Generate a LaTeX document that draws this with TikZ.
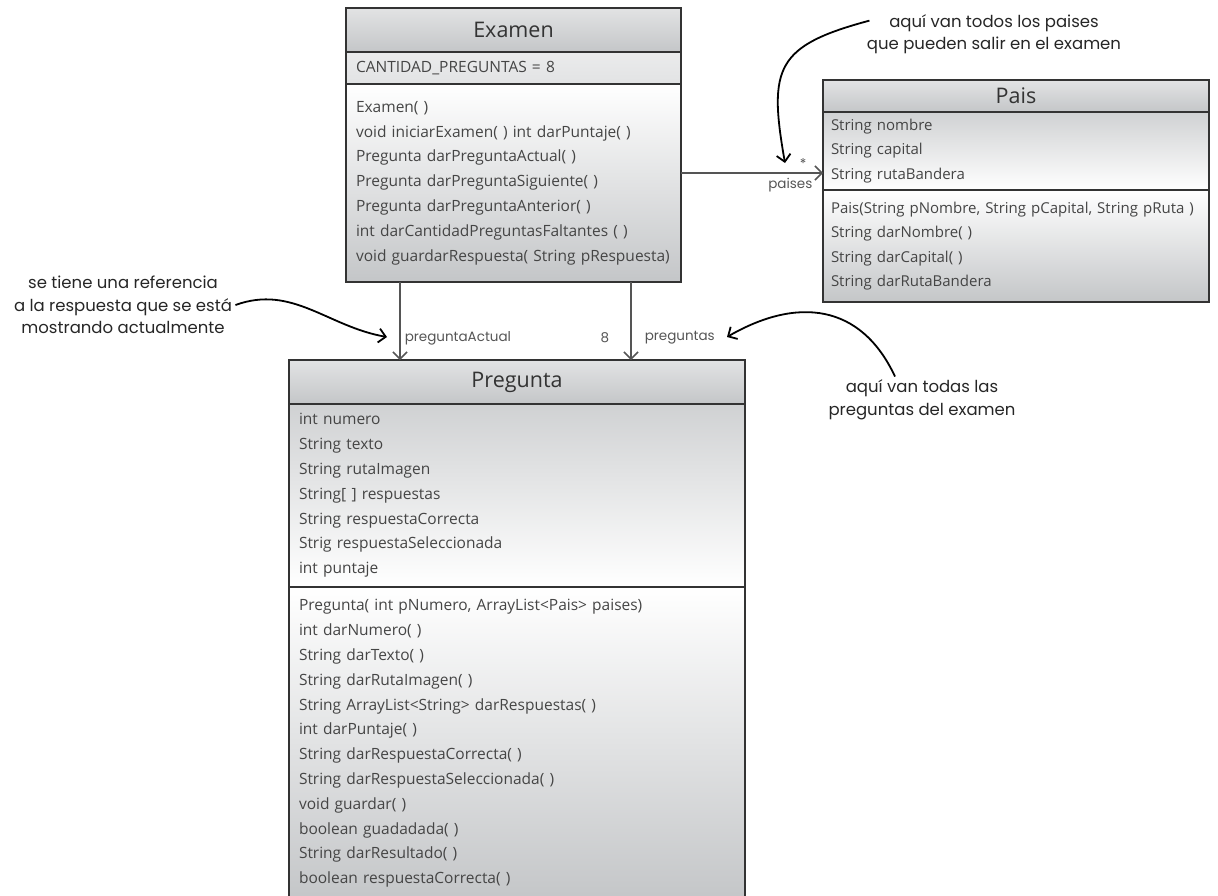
\documentclass[tikz,border=0pt]{standalone}
\usepackage{fontspec}
\usepackage{xcolor}
\newfontfamily\umlfont{Open Sans}
\newfontfamily\notefont{Poppins}
\definecolor{umlLine}{HTML}{333333}
\definecolor{umlText}{HTML}{454545}
\definecolor{umlShade}{HTML}{C4C6C8}
\definecolor{umlTop}{HTML}{E2E3E4}
\definecolor{linkGray}{HTML}{555555}
\usetikzlibrary{positioning,arrows.meta}

\begin{document}
\begin{tikzpicture}[x=1pt, y=-1pt,
  umltitle/.style={draw=umlLine, line width=1.6pt, outer sep=0pt, inner sep=0pt, top color=umlTop, bottom color=umlShade, text=black!80, font=\umlfont\fontsize{21.5}{24}\selectfont, minimum width=#1},
  umlpart/.style={draw=umlLine, line width=1.6pt, outer sep=0pt, inner xsep=10pt, inner ysep=0pt, text=umlText, font=\umlfont\fontsize{15.5}{24.8}\selectfont, align=left, text width=#1},
  umlattr/.style={top color=umlShade!80, bottom color=white},
  umlmeth/.style={top color=white, bottom color=umlShade},
  umlframe/.style={draw=umlLine, line width=2.4pt},
  link/.style={draw=linkGray, line width=1.5pt, -{Straight Barb[length=7pt,width=14pt]}},
  linklabel/.style={text=linkGray, font=\notefont\fontsize{13.5}{15}\selectfont, inner sep=1pt},
  note/.style={align=center, text=black!85, font=\notefont\fontsize{16.5}{22.5}\selectfont},
  notearrow/.style={draw=black, line width=1.8pt, -{Straight Barb[length=7pt,width=14pt]}}]
  \useasboundingbox (0,0) rectangle (1218,895);

  \node[umltitle=335pt, minimum height=44pt, anchor=north west] (exTitle) at (346,8) {Examen};
  \node[umlpart=315pt, minimum height=32pt, below=0pt of exTitle, top color=umlTop!70, bottom color=umlTop] (exAttr) {CANTIDAD\_PREGUNTAS = 8};
  \node[umlpart=315pt, umlmeth, minimum height=198pt, below=0pt of exAttr] (exMeth) {Examen( )\\void iniciarExamen( ) int darPuntaje( )\\Pregunta darPreguntaActual( )\\Pregunta darPreguntaSiguiente( )\\Pregunta darPreguntaAnterior( )\\int darCantidadPreguntasFaltantes ( )\\void guardarRespuesta( String pRespuesta)};
  \draw[umlframe] (exTitle.north west) rectangle (exMeth.south east);

  \node[umltitle=386pt, minimum height=32pt, anchor=north west] (paisTitle) at (823,80) {Pais};
  \node[umlpart=370pt, inner xsep=8pt, font=\umlfont\fontsize{15}{24.6}\selectfont, umlattr, minimum height=78pt, below=0pt of paisTitle] (paisAttr) {String nombre\\String capital\\String rutaBandera};
  \node[umlpart=370pt, inner xsep=8pt, font=\umlfont\fontsize{15}{24.6}\selectfont, umlmeth, minimum height=112pt, below=0pt of paisAttr] (paisMeth) {Pais(String pNombre, String pCapital, String pRuta )\\String darNombre( )\\String darCapital( )\\String darRutaBandera};
  \draw[umlframe] (paisTitle.north west) rectangle (paisMeth.south east);

  \node[umltitle=456pt, minimum height=44pt, anchor=north west] (pregTitle) at (289,360) {Pregunta};
  \node[umlpart=436pt, umlattr, minimum height=183pt, below=0pt of pregTitle] (pregAttr) {int numero\\String texto\\String rutaImagen\\String[ ] respuestas\\String respuestaCorrecta\\Strig respuestaSeleccionada\\int puntaje};
  \node[umlpart=436pt, umlmeth, minimum height=313pt, below=0pt of pregAttr] (pregMeth) {Pregunta( int pNumero, ArrayList<Pais> paises)\\int darNumero( )\\String darTexto( )\\String darRutaImagen( )\\String ArrayList<String> darRespuestas( )\\int darPuntaje( )\\String darRespuestaCorrecta( )\\String darRespuestaSeleccionada( )\\void guardar( )\\boolean guadadada( )\\String darResultado( )\\boolean respuestaCorrecta( )};
  \draw[umlframe] (pregTitle.north west) rectangle (pregMeth.south east);

  \coordinate (paisIn) at ([yshift=-22pt]paisAttr.west);
  \coordinate (actTop) at ([xshift=-113.5pt]exMeth.south);
  \coordinate (listTop) at ([xshift=117.5pt]exMeth.south);
  \coordinate (actBot) at (actTop |- pregTitle.north);
  \coordinate (listBot) at (listTop |- pregTitle.north);

  \draw[link] (exMeth.east |- paisIn) -- (paisIn)
    node[linklabel, pos=0.86, above=3pt] {*}
    node[linklabel, pos=0.77, below=3pt] {paises};
  \draw[link] (actTop) -- (actBot)
    node[linklabel, pos=0.72, right=3pt] {preguntaActual};
  \draw[link] (listTop) -- (listBot)
    node[linklabel, pos=0.72, left=20pt] {8}
    node[linklabel, pos=0.72, right=12pt] {preguntas};

  \node[note] (notePaises) at (994,34) {aquí van todos los paises\\que pueden salir en el examen};
  \node[note] (noteActual) at (123,305) {se tiene una referencia\\a la respuesta que se está\\mostrando actualmente};
  \node[note] (notePreg) at (922,400) {aquí van todas las\\preguntas del examen};

  \coordinate (paisesTip) at ([xshift=-38pt,yshift=10pt]paisIn);
  \coordinate (actualTip) at ([xshift=-13pt,yshift=23pt]actBot);
  \coordinate (pregTip) at ([xshift=96pt,yshift=23pt]listBot);

  \draw[notearrow] ([xshift=6pt,yshift=-10pt]notePaises.north west) to[out=195, in=100, looseness=1.5] (paisesTip);
  \draw[notearrow] (noteActual.east) to[out=20, in=170] (actualTip);
  \draw[notearrow] ([xshift=-27pt]notePreg.north) to[out=115, in=30, looseness=1.2] (pregTip);
\end{tikzpicture}
\end{document}
